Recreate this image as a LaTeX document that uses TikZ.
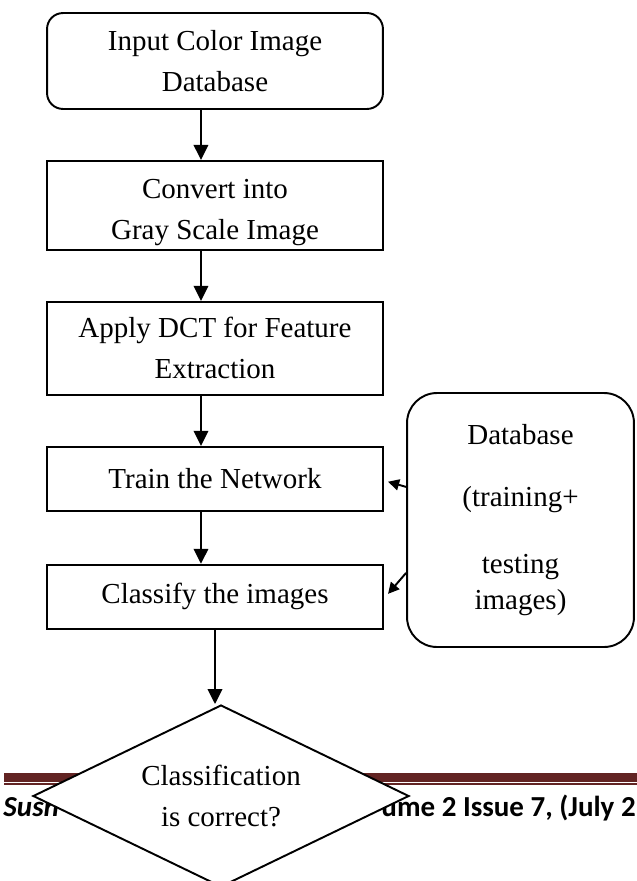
\documentclass[tikz,border=0pt]{standalone}
\usepackage{fontspec}
\setmainfont{Liberation Serif}
\newfontfamily\footerfont{Carlito}
\usetikzlibrary{positioning}
\usetikzlibrary{shapes.geometric}
\usetikzlibrary{arrows.meta}
\definecolor{footerred}{HTML}{622423}
\tikzstyle{stepbox}=[rectangle, draw, black, line width=0.8pt, minimum width=139pt, inner sep=0pt, align=center, font=\fontsize{12}{17}\selectfont]
\tikzstyle{flowarrow}=[line width=0.8pt, -{Triangle[length=6.2pt, width=6pt]}]
\tikzstyle{dbarrow}=[line width=0.8pt, -{Triangle[length=4.6pt, width=4.6pt]}]
\tikzstyle{footertext}=[inner sep=0pt, anchor=base west, font=\footerfont\fontsize{12}{14}\selectfont\bfseries]

\begin{document}
\begin{tikzpicture}[x=0.4138pt, y=-0.4138pt, node distance=20.7pt]
    \useasboundingbox (0,0) rectangle (636,881);
    % main chain
    \node[stepbox, rounded corners=6.6pt, minimum height=39.7pt] at (215,61) (input) {Input Color Image\\Database};
    \node[stepbox, minimum height=36.8pt, below=of input] (convert) {\rule{0pt}{14pt}Convert into\\Gray Scale Image};
    \node[stepbox, minimum height=38.5pt, below=of convert] (dct) {Apply DCT for Feature\\Extraction};
    \node[stepbox, minimum height=26.5pt, below=of dct] (train) {Train the Network};
    \node[stepbox, minimum height=26.5pt, below=21.5pt of train] (classify) {Classify the images};
    % side store
    \node[rectangle, draw, black, line width=0.8pt, rounded corners=12.4pt, minimum width=93.9pt,
    minimum height=105.1pt, inner sep=0pt, align=center, font=\fontsize{12}{15}\selectfont]
    at (520.5,520) (db) {Database\\[10.7pt](training+\\[12.8pt]testing\\images)};
    % footer rule
    \draw[footerred, line width=3.5pt] (4,777.5) -- (640,777.5);
    \draw[footerred, line width=0.7pt] (4,784.2) -- (640,784.2);
    \node[footertext] at (3,816) (footleft) {\itshape Sush};
    \node[footertext] at (381,816) (footright) {ume 2 Issue 7, (July 2};
    % decision
    \node[diamond, draw, black, fill=white, line width=0.8pt, aspect=2.07, minimum width=155.6pt,
    minimum height=75.3pt, inner sep=0pt, align=center, font=\fontsize{12}{17}\selectfont]
    at (221,796) (check) {Classification\\is correct?};
    \draw[flowarrow] ([xshift=-5.8pt]input.south) -- ([xshift=-5.8pt]convert.north);
    \draw[flowarrow] ([xshift=-5.8pt]convert.south) -- ([xshift=-5.8pt]dct.north);
    \draw[flowarrow] ([xshift=-5.8pt]dct.south) -- ([xshift=-5.8pt]train.north);
    \draw[flowarrow] ([xshift=-5.8pt]train.south) -- ([xshift=-5.8pt]classify.north);
    \draw[flowarrow] (classify.south) -- (classify.south |- check.north);
    \draw[dbarrow] ([yshift=13.7pt]db.west) -- ([xshift=1.7pt, yshift=-1.2pt]train.east);
    \draw[dbarrow] ([yshift=-21.9pt]db.west) -- ([xshift=1.7pt, yshift=1.2pt]classify.east);
\end{tikzpicture}
\end{document}
